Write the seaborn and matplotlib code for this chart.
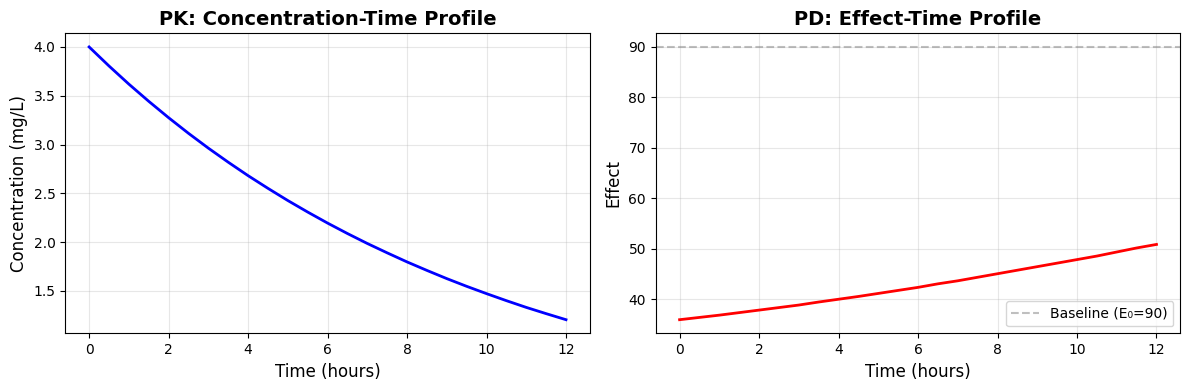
import matplotlib
matplotlib.use("Agg")
import matplotlib.pyplot as plt
import seaborn as sns
import pandas as pd

time_h = [0, 0.5, 1, 1.5, 2, 2.5, 3, 3.5, 4, 4.5, 5, 5.5, 6, 6.5, 7, 7.5, 8, 8.5, 9, 9.5, 10, 10.5, 11, 11.5, 12]
concentration = [4.000, 3.805, 3.619, 3.443, 3.275, 3.115, 2.963, 2.819, 2.681, 2.551, 2.426, 2.308, 2.195,
                 2.088, 1.986, 1.890, 1.797, 1.710, 1.626, 1.547, 1.472, 1.400, 1.331, 1.267, 1.205]
effect = [36.0, 36.45, 36.9, 37.4, 37.9, 38.4, 38.9, 39.5, 40.05, 40.6, 41.2, 41.8, 42.4,
          43.1, 43.7, 44.4, 45.1, 45.8, 46.5, 47.2, 47.9, 48.6, 49.4, 50.2, 50.9]
baseline_e0 = 90

df = pd.DataFrame({"time": time_h, "conc": concentration, "effect": effect})

plt.rcParams['font.family'] = ['DejaVu Sans']

fig, axes = plt.subplots(1, 2, figsize=(11.89, 3.9), dpi=100)

ax = axes[0]
sns.lineplot(data=df, x="time", y="conc", ax=ax, color="blue", linewidth=2)
ax.set_title("PK: Concentration-Time Profile", fontsize=14, fontweight="bold")
ax.set_xlabel("Time (hours)", fontsize=12)
ax.set_ylabel("Concentration (mg/L)", fontsize=12)
ax.grid(True, alpha=0.3)

ax = axes[1]
sns.lineplot(data=df, x="time", y="effect", ax=ax, color="red", linewidth=2)
ax.axhline(baseline_e0, color="gray", linestyle="--", alpha=0.5, label="Baseline (E\u2080=90)")
ax.set_title("PD: Effect-Time Profile", fontsize=14, fontweight="bold")
ax.set_xlabel("Time (hours)", fontsize=12)
ax.set_ylabel("Effect", fontsize=12)
ax.grid(True, alpha=0.3)
ax.legend(loc="lower right")

fig.subplots_adjust(left=0.0549, right=0.9927, top=0.9146, bottom=0.1453, wspace=0.1256)
fig.savefig("out.png", dpi=100)
